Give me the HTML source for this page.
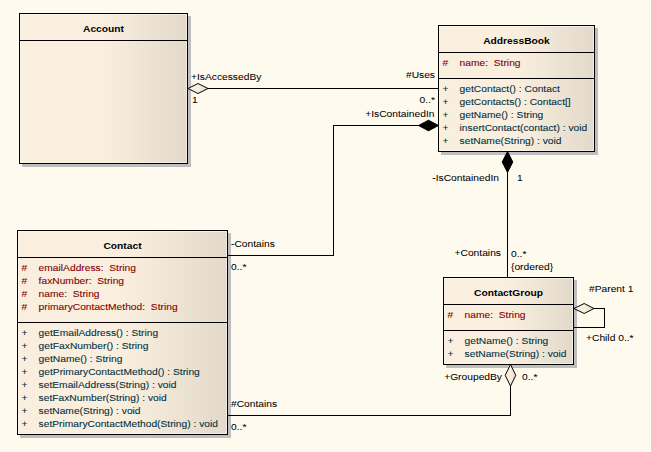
<!DOCTYPE html>
<html><head><meta charset="utf-8"><style>
html,body{margin:0;padding:0;background:#FFFAEE;}
svg{display:block;}
text{font-family:"Liberation Sans", sans-serif;font-size:10.25px;}
</style></head><body>
<svg width="651" height="452" viewBox="0 0 651 452">
<defs><linearGradient id="g" x1="0" y1="0" x2="1" y2="0">
<stop offset="0" stop-color="#FAEFDF"/><stop offset="0.5" stop-color="#FAEFDF"/><stop offset="1" stop-color="#E2D9CA"/>
</linearGradient></defs>
<rect x="0" y="0" width="651" height="452" fill="#FFFAEE"/>
<rect x="18.5" y="12.5" width="170" height="152" fill="none" stroke="#FFFDF6" stroke-width="1"/>
<rect x="22" y="16" width="169" height="151" fill="#BEBEBE"/>
<rect x="19" y="13" width="169" height="151" fill="url(#g)"/>
<rect x="20.5" y="14.5" width="166" height="148" fill="none" stroke="#FFF8EE" stroke-opacity="0.6" stroke-width="1"/>
<rect x="19.5" y="13.5" width="168" height="150" fill="none" stroke="#000" stroke-width="1"/>
<line x1="19" y1="40.5" x2="188" y2="40.5" stroke="#000" stroke-width="1"/>
<text x="103.5" y="32" fill="#000" stroke="#000" stroke-width="0" transform="matrix(1 0 0 0.9 0 3.2)" text-anchor="middle" font-weight="bold">Account</text>
<rect x="437.5" y="24.5" width="158" height="128" fill="none" stroke="#FFFDF6" stroke-width="1"/>
<rect x="441" y="28" width="157" height="127" fill="#BEBEBE"/>
<rect x="438" y="25" width="157" height="127" fill="url(#g)"/>
<rect x="439.5" y="26.5" width="154" height="124" fill="none" stroke="#FFF8EE" stroke-opacity="0.6" stroke-width="1"/>
<rect x="438.5" y="25.5" width="156" height="126" fill="none" stroke="#000" stroke-width="1"/>
<line x1="438" y1="52.5" x2="595" y2="52.5" stroke="#000" stroke-width="1"/>
<line x1="438" y1="78.5" x2="595" y2="78.5" stroke="#000" stroke-width="1"/>
<text x="516.5" y="44" fill="#000" stroke="#000" stroke-width="0" transform="matrix(1 0 0 0.9 0 4.4)" text-anchor="middle" font-weight="bold">AddressBook</text>
<text x="442.6" y="66" fill="#800000" stroke="#800000" stroke-width="0.1" transform="matrix(1 0 0 0.9 0 6.6)" >#</text>
<text x="459.6" y="66" fill="#800000" stroke="#800000" stroke-width="0.1" transform="matrix(1 0 0 0.9 0 6.6)" >name:&#160;&#160;String</text>
<text x="442.6" y="92" fill="#003040" stroke="#003040" stroke-width="0.1" transform="matrix(1 0 0 0.9 0 9.2)" >+</text>
<text x="459.6" y="92" fill="#003040" stroke="#003040" stroke-width="0.1" transform="matrix(1 0 0 0.9 0 9.2)" >getContact() : Contact</text>
<text x="442.6" y="105" fill="#003040" stroke="#003040" stroke-width="0.1" transform="matrix(1 0 0 0.9 0 10.5)" >+</text>
<text x="459.6" y="105" fill="#003040" stroke="#003040" stroke-width="0.1" transform="matrix(1 0 0 0.9 0 10.5)" >getContacts() : Contact[]</text>
<text x="442.6" y="118" fill="#003040" stroke="#003040" stroke-width="0.1" transform="matrix(1 0 0 0.9 0 11.8)" >+</text>
<text x="459.6" y="118" fill="#003040" stroke="#003040" stroke-width="0.1" transform="matrix(1 0 0 0.9 0 11.8)" >getName() : String</text>
<text x="442.6" y="131" fill="#003040" stroke="#003040" stroke-width="0.1" transform="matrix(1 0 0 0.9 0 13.1)" >+</text>
<text x="459.6" y="131" fill="#003040" stroke="#003040" stroke-width="0.1" transform="matrix(1 0 0 0.9 0 13.1)" >insertContact(contact) : void</text>
<text x="442.6" y="144" fill="#003040" stroke="#003040" stroke-width="0.1" transform="matrix(1 0 0 0.9 0 14.4)" >+</text>
<text x="459.6" y="144" fill="#003040" stroke="#003040" stroke-width="0.1" transform="matrix(1 0 0 0.9 0 14.4)" >setName(String) : void</text>
<rect x="16.5" y="229.5" width="212" height="206" fill="none" stroke="#FFFDF6" stroke-width="1"/>
<rect x="20" y="233" width="211" height="205" fill="#BEBEBE"/>
<rect x="17" y="230" width="211" height="205" fill="url(#g)"/>
<rect x="18.5" y="231.5" width="208" height="202" fill="none" stroke="#FFF8EE" stroke-opacity="0.6" stroke-width="1"/>
<rect x="17.5" y="230.5" width="210" height="204" fill="none" stroke="#000" stroke-width="1"/>
<line x1="17" y1="257.5" x2="228" y2="257.5" stroke="#000" stroke-width="1"/>
<line x1="17" y1="322.5" x2="228" y2="322.5" stroke="#000" stroke-width="1"/>
<text x="122.5" y="249" fill="#000" stroke="#000" stroke-width="0" transform="matrix(1 0 0 0.9 0 24.9)" text-anchor="middle" font-weight="bold">Contact</text>
<text x="21.6" y="271" fill="#800000" stroke="#800000" stroke-width="0.1" transform="matrix(1 0 0 0.9 0 27.1)" >#</text>
<text x="38.6" y="271" fill="#800000" stroke="#800000" stroke-width="0.1" transform="matrix(1 0 0 0.9 0 27.1)" >emailAddress:&#160;&#160;String</text>
<text x="21.6" y="284" fill="#800000" stroke="#800000" stroke-width="0.1" transform="matrix(1 0 0 0.9 0 28.4)" >#</text>
<text x="38.6" y="284" fill="#800000" stroke="#800000" stroke-width="0.1" transform="matrix(1 0 0 0.9 0 28.4)" >faxNumber:&#160;&#160;String</text>
<text x="21.6" y="297" fill="#800000" stroke="#800000" stroke-width="0.1" transform="matrix(1 0 0 0.9 0 29.7)" >#</text>
<text x="38.6" y="297" fill="#800000" stroke="#800000" stroke-width="0.1" transform="matrix(1 0 0 0.9 0 29.7)" >name:&#160;&#160;String</text>
<text x="21.6" y="310" fill="#800000" stroke="#800000" stroke-width="0.1" transform="matrix(1 0 0 0.9 0 31.0)" >#</text>
<text x="38.6" y="310" fill="#800000" stroke="#800000" stroke-width="0.1" transform="matrix(1 0 0 0.9 0 31.0)" >primaryContactMethod:&#160;&#160;String</text>
<text x="21.6" y="336" fill="#003040" stroke="#003040" stroke-width="0.1" transform="matrix(1 0 0 0.9 0 33.6)" >+</text>
<text x="38.6" y="336" fill="#003040" stroke="#003040" stroke-width="0.1" transform="matrix(1 0 0 0.9 0 33.6)" >getEmailAddress() : String</text>
<text x="21.6" y="349" fill="#003040" stroke="#003040" stroke-width="0.1" transform="matrix(1 0 0 0.9 0 34.9)" >+</text>
<text x="38.6" y="349" fill="#003040" stroke="#003040" stroke-width="0.1" transform="matrix(1 0 0 0.9 0 34.9)" >getFaxNumber() : String</text>
<text x="21.6" y="362" fill="#003040" stroke="#003040" stroke-width="0.1" transform="matrix(1 0 0 0.9 0 36.2)" >+</text>
<text x="38.6" y="362" fill="#003040" stroke="#003040" stroke-width="0.1" transform="matrix(1 0 0 0.9 0 36.2)" >getName() : String</text>
<text x="21.6" y="375" fill="#003040" stroke="#003040" stroke-width="0.1" transform="matrix(1 0 0 0.9 0 37.5)" >+</text>
<text x="38.6" y="375" fill="#003040" stroke="#003040" stroke-width="0.1" transform="matrix(1 0 0 0.9 0 37.5)" >getPrimaryContactMethod() : String</text>
<text x="21.6" y="388" fill="#003040" stroke="#003040" stroke-width="0.1" transform="matrix(1 0 0 0.9 0 38.8)" >+</text>
<text x="38.6" y="388" fill="#003040" stroke="#003040" stroke-width="0.1" transform="matrix(1 0 0 0.9 0 38.8)" >setEmailAddress(String) : void</text>
<text x="21.6" y="401" fill="#003040" stroke="#003040" stroke-width="0.1" transform="matrix(1 0 0 0.9 0 40.1)" >+</text>
<text x="38.6" y="401" fill="#003040" stroke="#003040" stroke-width="0.1" transform="matrix(1 0 0 0.9 0 40.1)" >setFaxNumber(String) : void</text>
<text x="21.6" y="414" fill="#003040" stroke="#003040" stroke-width="0.1" transform="matrix(1 0 0 0.9 0 41.4)" >+</text>
<text x="38.6" y="414" fill="#003040" stroke="#003040" stroke-width="0.1" transform="matrix(1 0 0 0.9 0 41.4)" >setName(String) : void</text>
<text x="21.6" y="427" fill="#003040" stroke="#003040" stroke-width="0.1" transform="matrix(1 0 0 0.9 0 42.7)" >+</text>
<text x="38.6" y="427" fill="#003040" stroke="#003040" stroke-width="0.1" transform="matrix(1 0 0 0.9 0 42.7)" >setPrimaryContactMethod(String) : void</text>
<rect x="442.5" y="276.5" width="132" height="89" fill="none" stroke="#FFFDF6" stroke-width="1"/>
<rect x="446" y="280" width="131" height="88" fill="#BEBEBE"/>
<rect x="443" y="277" width="131" height="88" fill="url(#g)"/>
<rect x="444.5" y="278.5" width="128" height="85" fill="none" stroke="#FFF8EE" stroke-opacity="0.6" stroke-width="1"/>
<rect x="443.5" y="277.5" width="130" height="87" fill="none" stroke="#000" stroke-width="1"/>
<line x1="443" y1="304.5" x2="574" y2="304.5" stroke="#000" stroke-width="1"/>
<line x1="443" y1="330.5" x2="574" y2="330.5" stroke="#000" stroke-width="1"/>
<text x="508.5" y="296" fill="#000" stroke="#000" stroke-width="0" transform="matrix(1 0 0 0.9 0 29.6)" text-anchor="middle" font-weight="bold">ContactGroup</text>
<text x="447.6" y="318" fill="#800000" stroke="#800000" stroke-width="0.1" transform="matrix(1 0 0 0.9 0 31.8)" >#</text>
<text x="464.6" y="318" fill="#800000" stroke="#800000" stroke-width="0.1" transform="matrix(1 0 0 0.9 0 31.8)" >name:&#160;&#160;String</text>
<text x="447.6" y="344" fill="#003040" stroke="#003040" stroke-width="0.1" transform="matrix(1 0 0 0.9 0 34.4)" >+</text>
<text x="464.6" y="344" fill="#003040" stroke="#003040" stroke-width="0.1" transform="matrix(1 0 0 0.9 0 34.4)" >getName() : String</text>
<text x="447.6" y="357" fill="#003040" stroke="#003040" stroke-width="0.1" transform="matrix(1 0 0 0.9 0 35.7)" >+</text>
<text x="464.6" y="357" fill="#003040" stroke="#003040" stroke-width="0.1" transform="matrix(1 0 0 0.9 0 35.7)" >setName(String) : void</text>
<rect x="208" y="88" width="230" height="1" fill="#000"/>
<rect x="333" y="125" width="86" height="1" fill="#000"/>
<rect x="333" y="125" width="1" height="131" fill="#000"/>
<rect x="228" y="255" width="106" height="1" fill="#000"/>
<rect x="507" y="172" width="1" height="105" fill="#000"/>
<rect x="510" y="386" width="1" height="30" fill="#000"/>
<rect x="228" y="415" width="283" height="1" fill="#000"/>
<rect x="594" y="308" width="11" height="1" fill="#000"/>
<rect x="604" y="308" width="1" height="20" fill="#000"/>
<rect x="574" y="327" width="31" height="1" fill="#000"/>
<polygon points="188,88.5 198,83.5 208,88.5 198,93.5" fill="url(#g)" stroke="#000" stroke-width="1"/>
<polygon points="418.5,125.5 428.5,120.2 438.5,125.5 428.5,130.8" fill="#000" stroke="#000" stroke-width="1"/>
<polygon points="507.5,151.5 502.2,162 507.5,172.5 512.8,162" fill="#000" stroke="#000" stroke-width="1"/>
<polygon points="510.5,364.5 505.2,375.3 510.5,386 515.8,375.3" fill="url(#g)" stroke="#000" stroke-width="1"/>
<polygon points="574,308.5 584.2,303.5 594,308.5 584.2,313.5" fill="url(#g)" stroke="#000" stroke-width="1"/>
<text x="191" y="80" fill="#000000" stroke="#000000" stroke-width="0.05" transform="matrix(1 0 0 0.9 0 8.0)" text-anchor="start">+IsAccessedBy</text>
<text x="192" y="103" fill="#000000" stroke="#000000" stroke-width="0.05" transform="matrix(1 0 0 0.9 0 10.3)" text-anchor="start">1</text>
<text x="435" y="78" fill="#000000" stroke="#000000" stroke-width="0.05" transform="matrix(1 0 0 0.9 0 7.8)" text-anchor="end">#Uses</text>
<text x="435" y="103" fill="#000000" stroke="#000000" stroke-width="0.05" transform="matrix(1 0 0 0.9 0 10.3)" text-anchor="end">0..*</text>
<text x="434.5" y="117" fill="#000000" stroke="#000000" stroke-width="0.05" transform="matrix(1 0 0 0.9 0 11.7)" text-anchor="end">+IsContainedIn</text>
<text x="231" y="247" fill="#000000" stroke="#000000" stroke-width="0.05" transform="matrix(1 0 0 0.9 0 24.7)" text-anchor="start">-Contains</text>
<text x="231" y="270" fill="#000000" stroke="#000000" stroke-width="0.05" transform="matrix(1 0 0 0.9 0 27.0)" text-anchor="start">0..*</text>
<text x="499" y="181" fill="#000000" stroke="#000000" stroke-width="0.05" transform="matrix(1 0 0 0.9 0 18.1)" text-anchor="end">-IsContainedIn</text>
<text x="517" y="181" fill="#000000" stroke="#000000" stroke-width="0.05" transform="matrix(1 0 0 0.9 0 18.1)" text-anchor="start">1</text>
<text x="501" y="256" fill="#000000" stroke="#000000" stroke-width="0.05" transform="matrix(1 0 0 0.9 0 25.6)" text-anchor="end">+Contains</text>
<text x="511" y="257" fill="#000000" stroke="#000000" stroke-width="0.05" transform="matrix(1 0 0 0.9 0 25.7)" text-anchor="start">0..*</text>
<text x="511" y="270" fill="#000000" stroke="#000000" stroke-width="0.05" transform="matrix(1 0 0 0.9 0 27.0)" text-anchor="start">{ordered}</text>
<text x="589" y="292" fill="#000000" stroke="#000000" stroke-width="0.05" transform="matrix(1 0 0 0.9 0 29.2)" text-anchor="start">#Parent 1</text>
<text x="586" y="341" fill="#000000" stroke="#000000" stroke-width="0.05" transform="matrix(1 0 0 0.9 0 34.1)" text-anchor="start">+Child 0..*</text>
<text x="502" y="380" fill="#000000" stroke="#000000" stroke-width="0.05" transform="matrix(1 0 0 0.9 0 38.0)" text-anchor="end">+GroupedBy</text>
<text x="522" y="380" fill="#000000" stroke="#000000" stroke-width="0.05" transform="matrix(1 0 0 0.9 0 38.0)" text-anchor="start">0..*</text>
<text x="231" y="407" fill="#000000" stroke="#000000" stroke-width="0.05" transform="matrix(1 0 0 0.9 0 40.7)" text-anchor="start">#Contains</text>
<text x="231" y="430" fill="#000000" stroke="#000000" stroke-width="0.05" transform="matrix(1 0 0 0.9 0 43.0)" text-anchor="start">0..*</text>
</svg>
</body></html>
